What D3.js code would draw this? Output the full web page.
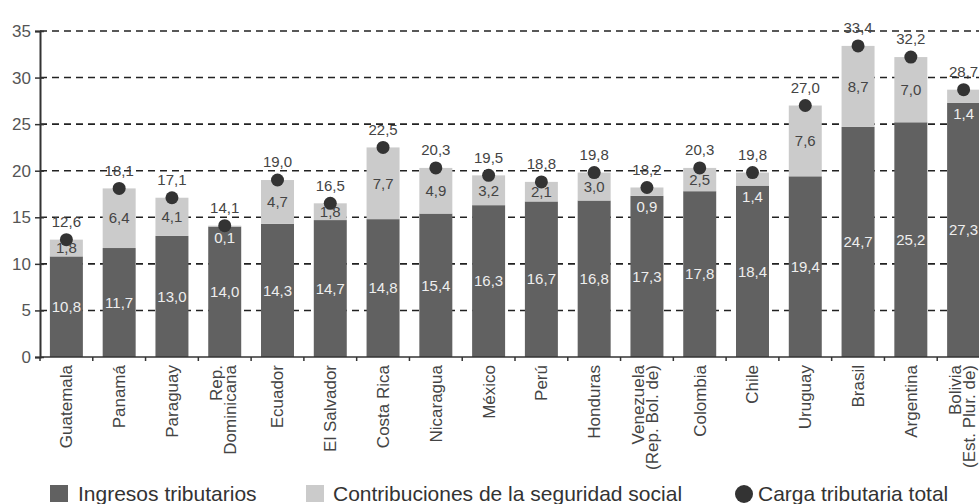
<!DOCTYPE html>
<html>
<head>
<meta charset="utf-8">
<script src="https://cdn.jsdelivr.net/npm/d3@7"></script>
<style>
	body { margin: 0; background: #fff; }
	svg { display: block; font-family: "Liberation Sans", Arial, sans-serif; }
</style>
</head>
<body>
<div id="chart"></div>
<script>
// Data
const countries = [
	["Guatemala"], ["Panamá"], ["Paraguay"], ["Rep.", "Dominicana"], ["Ecuador"],
	["El Salvador"], ["Costa Rica"], ["Nicaragua"], ["México"], ["Perú"], ["Honduras"],
	["Venezuela", "(Rep. Bol. de)"], ["Colombia"], ["Chile"], ["Uruguay"], ["Brasil"],
	["Argentina"], ["Bolivia", "(Est. Plur. de)"]
];
const ingresos = [10.8, 11.7, 13.0, 14.0, 14.3, 14.7, 14.8, 15.4, 16.3, 16.7, 16.8, 17.3, 17.8, 18.4, 19.4, 24.7, 25.2, 27.3];
const contribuciones = [1.8, 6.4, 4.1, 0.1, 4.7, 1.8, 7.7, 4.9, 3.2, 2.1, 3.0, 0.9, 2.5, 1.4, 7.6, 8.7, 7.0, 1.4];
const cargaTotal = [12.6, 18.1, 17.1, 14.1, 19.0, 16.5, 22.5, 20.3, 19.5, 18.8, 19.8, 18.2, 20.3, 19.8, 27.0, 33.4, 32.2, 28.7];
const yTicks = [0, 5, 10, 15, 20, 25, 30, 35];
const legendLabels = ["Ingresos tributarios", "Contribuciones de la seguridad social", "Carga tributaria total"];

const width = 979, height = 504;
const darkColor = "#616161", lightColor = "#cbcbcb", dotColor = "#333";

const locale = d3.formatLocale({ decimal: ",", thousands: ".", grouping: [3], currency: ["", ""] });
const fmt = locale.format(".1f");

const rows = countries.map((c, i) => ({
	idx: i, lines: c, ing: ingresos[i], con: contribuciones[i], tot: cargaTotal[i]
}));

const x = d3.scaleBand()
	.domain(d3.range(rows.length))
	.range([40, 990])
	.paddingInner(0.375)
	.paddingOuter(0.1875);

const y = d3.scaleLinear().domain([0, 35]).range([357, 31]);

const svg = d3.select("#chart").append("svg")
	.attr("width", width)
	.attr("height", height);

// Dashed grid
svg.append("g")
	.selectAll("line")
	.data(yTicks.filter(d => d > 0))
	.join("line")
	.attr("x1", 40).attr("x2", width)
	.attr("y1", d => y(d)).attr("y2", d => y(d))
	.attr("stroke", "#222")
	.attr("stroke-width", 1.6)
	.attr("stroke-dasharray", "7,5");

// Stacked bars
const bars = svg.append("g");
bars.selectAll(".ing")
	.data(rows)
	.join("rect")
	.attr("class", "ing")
	.attr("x", d => x(d.idx))
	.attr("width", x.bandwidth())
	.attr("y", d => y(d.ing))
	.attr("height", d => y(0) - y(d.ing))
	.attr("fill", darkColor);

bars.selectAll(".con")
	.data(rows)
	.join("rect")
	.attr("class", "con")
	.attr("x", d => x(d.idx))
	.attr("width", x.bandwidth())
	.attr("y", d => y(d.ing + d.con))
	.attr("height", d => y(d.ing) - y(d.ing + d.con))
	.attr("fill", lightColor);

// Y axis
const yAxis = svg.append("g")
	.attr("transform", "translate(40,0)")
	.call(d3.axisLeft(y).tickValues(yTicks).tickSize(5).tickPadding(4));
yAxis.select(".domain").attr("stroke", "#333").attr("stroke-width", 2);
yAxis.selectAll(".tick line").attr("stroke", "#333").attr("stroke-width", 1.5).attr("x2", 4).attr("x1", -5);
yAxis.selectAll(".tick text")
	.attr("font-size", 17)
	.attr("fill", "#555")
	.attr("font-family", "Liberation Sans, Arial, sans-serif");

// X axis line and ticks at band boundaries
svg.append("line")
	.attr("x1", 40).attr("x2", width)
	.attr("y1", y(0)).attr("y2", y(0))
	.attr("stroke", "#333").attr("stroke-width", 1.6);
svg.append("g")
	.selectAll("line")
	.data(d3.range(rows.length + 1))
	.join("line")
	.attr("x1", d => 40 + d * x.step()).attr("x2", d => 40 + d * x.step())
	.attr("y1", y(0)).attr("y2", y(0) + 4)
	.attr("stroke", "#333").attr("stroke-width", 1.5);

// Country labels (rotated)
svg.append("g")
	.selectAll("text")
	.data(rows)
	.join("text")
	.attr("transform", d => `translate(${x(d.idx) + x.bandwidth() / 2},365) rotate(-90)`)
	.attr("text-anchor", "end")
	.attr("font-size", 17)
	.attr("fill", "#444")
	.each(function(d) {
		const t = d3.select(this);
		const n = d.lines.length;
		d.lines.forEach((line, k) => {
			t.append("tspan")
				.attr("x", 0)
				.attr("y", (k - (n - 1) / 2) * 14 - (n - 1) * 1.5)
				.attr("dy", "0.35em")
				.text(line);
		});
	});

// Dots for total
svg.append("g")
	.selectAll("circle")
	.data(rows)
	.join("circle")
	.attr("cx", d => x(d.idx) + x.bandwidth() / 2)
	.attr("cy", d => y(d.tot))
	.attr("r", 6.5)
	.attr("fill", dotColor);

// Value labels
const labels = svg.append("g").attr("font-size", 15).attr("text-anchor", "middle");

labels.selectAll(".lab-ing")
	.data(rows)
	.join("text")
	.attr("x", d => x(d.idx) + x.bandwidth() / 2)
	.attr("y", d => y(d.ing / 2))
	.attr("dy", "0.35em")
	.attr("fill", "#eee")
	.text(d => fmt(d.ing));

labels.selectAll(".lab-con")
	.data(rows)
	.join("text")
	.attr("x", d => x(d.idx) + x.bandwidth() / 2)
	.attr("y", d => d.con < 1.5 ? y(d.ing) + 11 : y(d.ing + d.con / 2))
	.attr("dy", "0.35em")
	.attr("fill", d => d.con < 1.5 ? "#eee" : "#444")
	.text(d => fmt(d.con));

labels.selectAll(".lab-tot")
	.data(rows)
	.join("text")
	.attr("x", d => x(d.idx) + x.bandwidth() / 2)
	.attr("y", d => y(d.tot) - 18)
	.attr("dy", "0.35em")
	.attr("fill", "#444")
	.text(d => fmt(d.tot));

// Legend
const legend = svg.append("g").attr("font-size", 21).attr("fill", "#333");
legend.append("rect").attr("x", 50).attr("y", 485).attr("width", 18).attr("height", 17).attr("fill", darkColor);
legend.append("text").attr("x", 78).attr("y", 501).text(legendLabels[0]);
legend.append("rect").attr("x", 306).attr("y", 485).attr("width", 18).attr("height", 17).attr("fill", lightColor);
legend.append("text").attr("x", 333).attr("y", 501).text(legendLabels[1]);
legend.append("circle").attr("cx", 744).attr("cy", 494).attr("r", 9).attr("fill", dotColor);
legend.append("text").attr("x", 758).attr("y", 501).text(legendLabels[2]);
</script>
</body>
</html>
